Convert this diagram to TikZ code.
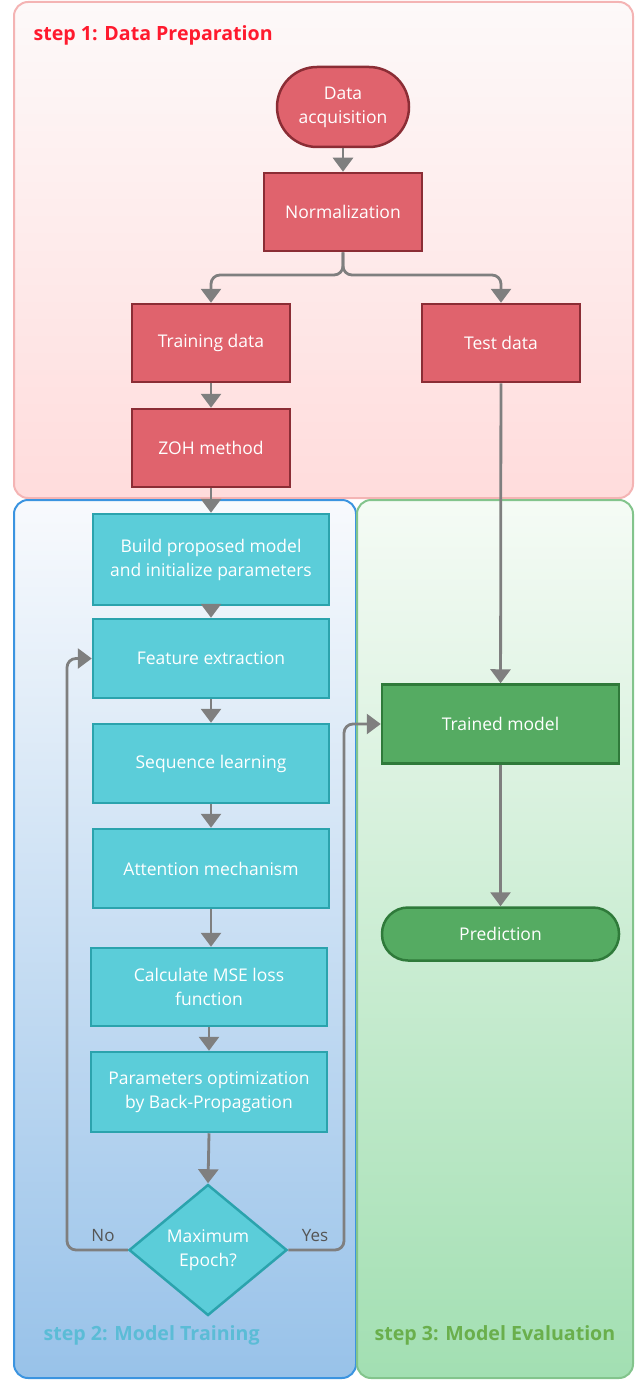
\documentclass[tikz,border=0pt]{standalone}
\usepackage{fontspec}
\setmainfont{Open Sans}
\usetikzlibrary{arrows.meta,shapes.geometric}
\definecolor{redfill}{HTML}{E0636D}
\definecolor{reddraw}{HTML}{8B2D35}
\definecolor{cyanfill}{HTML}{5BCDD9}
\definecolor{cyandraw}{HTML}{2BA3AD}
\definecolor{greenfill}{HTML}{55AB62}
\definecolor{greendraw}{HTML}{2F7A3A}
\definecolor{conn}{HTML}{7F7F7F}
\definecolor{ptop}{HTML}{FDF9F9}
\definecolor{pbot}{HTML}{FFDCDC}
\definecolor{pline}{HTML}{F4B4B4}
\definecolor{btop}{HTML}{F8FAFD}
\definecolor{bbot}{HTML}{98C2E9}
\definecolor{bline}{HTML}{3B94E0}
\definecolor{gtop}{HTML}{F5FBF5}
\definecolor{gbot}{HTML}{A2DFB2}
\definecolor{gline}{HTML}{83C48C}
\definecolor{t1}{HTML}{FF1A2E}
\definecolor{t2}{HTML}{5BBCD6}
\definecolor{t3}{HTML}{6AAF4C}
\definecolor{lab}{HTML}{555555}
\tikzset{
  base/.style={line width=2.5pt, text=white, align=center, inner sep=0pt,
    font=\fontsize{17.5}{24}\selectfont},
  redbox/.style={base, rectangle, fill=redfill, draw=reddraw, minimum width=158pt, minimum height=78pt},
  cyanbox/.style={base, rectangle, fill=cyanfill, draw=cyandraw, minimum width=236pt, minimum height=79pt},
  greenbox/.style={base, rectangle, fill=greenfill, draw=greendraw, minimum width=237pt, minimum height=79pt},
  conn/.style={draw=conn, line width=2.8pt, rounded corners=9pt,
    -{Triangle[width=20pt,length=14pt]}},
  panel/.style={line width=2pt, rounded corners=14pt},
  ptitle/.style={anchor=west, font=\fontsize{19.6}{22}\selectfont\bfseries},
  lbl/.style={text=lab, font=\fontsize{17}{20}\selectfont}
}
\begin{document}
\begin{tikzpicture}[x=1pt,y=-1pt]
\useasboundingbox (0,0) rectangle (644,1380);
% panels
\draw[panel, draw=pline, top color=ptop, bottom color=pbot] (14,2) rectangle (633,498);
\draw[panel, draw=bline, top color=btop, bottom color=bbot] (14,500) rectangle (356,1378);
\draw[panel, draw=gline, top color=gtop, bottom color=gbot] (357,500) rectangle (633,1378);
\node[ptitle, text=t1] (s1) at (30,35) {step 1: Data Preparation};
\node[ptitle, text=t2] (s2) at (40,1335) {step 2: Model Training};
\node[ptitle, text=t3] (s3) at (371,1335) {step 3: Model Evaluation};
% nodes
\node[base, fill=redfill, draw=reddraw, minimum width=132pt, minimum height=80pt, rounded corners=40pt] (acq) at (343,107) {Data\\acquisition};
\node[redbox] (norm) at (343,212) {Normalization};
\node[redbox] (train) at (211,343) {Training data};
\node[redbox] (test) at (501,343) {Test data};
\node[redbox] (zoh) at (211,448) {ZOH method};
\node[cyanbox, minimum height=91pt] (build) at (211,559.5) {Build proposed model\\and initialize parameters};
\node[cyanbox] (feat) at (211,658.5) {Feature extraction};
\node[cyanbox] (seq) at (211,763.5) {Sequence learning};
\node[cyanbox] (att) at (211,868.5) {Attention mechanism};
\node[cyanbox, minimum height=78pt] (mse) at (209,987) {Calculate MSE loss\\function};
\node[cyanbox, minimum height=80pt] (opt) at (209,1092) {Parameters optimization\\by Back-Propagation};
\node[base, diamond, fill=cyanfill, draw=cyandraw, minimum width=158pt, minimum height=131pt] (dec) at (208,1250) {Maximum\\Epoch?};
\node[greenbox] (trained) at (500.5,724) {Trained model};
\node[base, fill=greenfill, draw=greendraw, minimum width=237pt, minimum height=53pt, rounded corners=26pt] (pred) at (500.5,934) {Prediction};
% connectors
\draw[conn] (acq) -- (norm);
\draw[conn] (norm.south) |- (277,275) -| (train.north);
\draw[conn] (norm.south) |- (409,275) -| (test.north);
\draw[conn] (train) -- (zoh);
\draw[conn] (zoh.south) -- (build.north);
\draw[conn] (build) -- (feat);
\draw[conn] (feat) -- (seq);
\draw[conn] (seq) -- (att);
\draw[conn] (att.south) -- (mse.north -| att.south);
\draw[conn] (mse) -- (opt);
\draw[conn] (opt.south) -- (dec.north);
\draw[conn] (test) -- (trained);
\draw[conn] (trained) -- (pred);
\draw[conn] (dec.west) -- (67,1250) |- (feat.west);
\draw[conn] (dec.east) -- (344,1250) |- (trained.west);
\node[lbl] (no) at (103,1235) {No};
\node[lbl] (yes) at (315,1235) {Yes};
\end{tikzpicture}
\end{document}
